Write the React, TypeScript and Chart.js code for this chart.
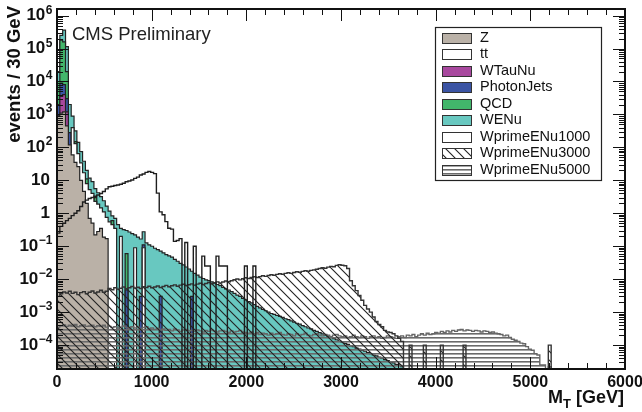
import React, { useEffect, useRef } from "react";
import { Chart, registerables } from "chart.js";

Chart.register(...registerables);

// ---- binning / axis ranges -------------------------------------------------
const BIN_WIDTH = 30; // GeV per histogram bin
const X_MIN = 0;
const X_MAX = 6000;
const Y_MIN = 1.88e-5;
const Y_MAX = 1.585e6;

const xMajorTicks = [0, 1000, 2000, 3000, 4000, 5000, 6000];
const yDecadeExponents = [-4, -3, -2, -1, 0, 1, 2, 3, 4, 5, 6];

// ---- background samples, events / 30 GeV (bin i = [30 i, 30 i + 30) GeV) ----
const zEvents = [
  900, 1100, 1200, 450, 120, 59, 35, 26, 10, 4.6, 2.0, 0.7, 0.5, 0.22, 0.28, 0.35, 0.19, 0.17,
];

const ttEvents = [
  5, 20, 30, 40, 70, 400, 130, 65, 34, 17, 8, 5.2, 4.0, 2.3, 1.9, 1.45, 1.1, 0.75, 0.55, 0.45,
  0.35, 0, 0.2, 0, 0, 0, 0, 0.09, 0, 0, 0.09,
];

const wTauNuEvents = [600, 3500, 4000, 1200, 20];

const photonJetsEvents = [
  2000, 9000, 8000, 3000, 280, 0, 0, 0, 0, 0, 0, 0, 0, 0, 0, 0, 0, 0, 0, 0,
  0, 0, 0, 0, 0.0047, 0, 0, 0, 0, 0.003, 0.11, 0, 0, 0, 0, 0, 0.003, 0, 0, 0,
  0, 0, 0, 0, 0, 0, 0, 0.003,
];

const qcdEvents = [
  1.0e4, 1.8e5, 1.6e5, 2.0e4, 0, 0, 150, 0, 0, 0, 11, 0, 0, 3.0, 0, 0, 0, 0, 0, 0.6,
  0, 0, 0, 0, 0.06,
];

const wENuEvents = [
  2.0e4, 2.5e5, 3.6e5, 1.15e5, 2.0e3, 890, 316, 141, 74, 38,
  20, 11.7, 9.1, 5.6, 4.2, 3.2, 2.4, 1.66, 1.17, 0.83,
  0.7, 0.45, 0.35, 0.32, 0.3, 0.27, 0.24, 0.22, 0.19, 0.166,
  0.275, 0.126, 0.11, 0.1, 0.087, 0.079, 0.071, 0.063, 0.056, 0.051,
  0.047, 0.04, 0.035, 0.03, 0.027, 0.0234, 0.0204, 0.0174, 0.0151, 0.0132,
  0.0115, 0.0105, 0.0095, 0.0091, 0.0083, 0.0076, 0.0069, 0.0064, 0.0056, 0.0051,
  0.0047, 0.0042, 0.0037, 0.0033, 0.003, 0.0026, 0.00235, 0.0021, 0.0019, 0.0017,
  0.0015, 0.00135, 0.00122, 0.0011, 0.001, 9.1e-4, 8.5e-4, 7.9e-4, 7.4e-4, 6.9e-4,
  6.3e-4, 5.9e-4, 5.4e-4, 5.0e-4, 4.6e-4, 4.3e-4, 3.9e-4, 3.6e-4, 3.3e-4, 3.1e-4,
  2.8e-4, 2.6e-4, 2.4e-4, 2.2e-4, 2.0e-4, 1.86e-4, 1.7e-4, 1.58e-4, 1.45e-4, 1.32e-4,
  1.23e-4, 1.12e-4, 1.05e-4, 9.5e-5, 8.9e-5, 8.1e-5, 7.6e-5, 6.9e-5, 6.5e-5, 5.9e-5,
  5.5e-5, 5.0e-5, 4.7e-5, 4.3e-5, 4.0e-5, 3.6e-5, 3.4e-5, 3.1e-5, 2.9e-5, 2.6e-5,
  2.5e-5, 2.2e-5,
];

// ---- W' signal samples --------------------------------------------------------
const wprime1000Events = [
  0.25, 0.4, 0.5, 0.6, 0.7, 0.85, 1.0, 1.2, 1.6, 2.2,
  2.5, 2.8, 3.0, 3.3, 3.6, 4.0, 4.6, 5.5, 6.4, 6.6,
  7.0, 7.2, 7.6, 8.2, 9.1, 9.5, 10.2, 11.5, 12.5, 14.5,
  15.5, 17.5, 18.5, 17.5, 16, 4.1, 1.1, 0.9, 0.56, 0.35,
  0.33, 0.14, 0.15, 0.17, 0, 0.13, 0, 0, 0.1, 0,
  0, 0.05, 0.025, 0.025, 0, 0, 0.05, 0.025, 0.025, 0.025,
  0, 0, 0, 0, 0, 0, 0.025, 0, 0, 0.025,
];

const wprime3000Events = [
  0.0030, 0.0036, 0.0041, 0.0038, 0.0043, 0.0037, 0.0040, 0.0034, 0.0039, 0.0042,
  0.0036, 0.0040, 0.0044, 0.0038, 0.0041, 0.0046, 0.0040, 0.0043, 0.0052, 0.0048,
  0.0055, 0.0050, 0.0053, 0.0058, 0.0051, 0.0055, 0.0060, 0.0054, 0.0057, 0.0052,
  0.0059, 0.0056, 0.0061, 0.0055, 0.0058, 0.0062, 0.0056, 0.0060, 0.0065, 0.0059,
  0.0063, 0.0067, 0.0061, 0.0066, 0.0070, 0.0064, 0.0068, 0.0072, 0.0066, 0.0071,
  0.0075, 0.0069, 0.0074, 0.0079, 0.0073, 0.0078, 0.0083, 0.0077, 0.0082, 0.0088,
  0.0084, 0.0090, 0.0096, 0.0101, 0.0095, 0.0104, 0.0110, 0.0105, 0.0112, 0.0118,
  0.0113, 0.0120, 0.0127, 0.0122, 0.0130, 0.0137, 0.0131, 0.0140, 0.0146, 0.0141,
  0.0150, 0.0156, 0.0150, 0.0160, 0.0168, 0.0162, 0.0172, 0.0180, 0.0175, 0.0185,
  0.0192, 0.0200, 0.0210, 0.0222, 0.0215, 0.0232, 0.0245, 0.0238, 0.0262, 0.0275,
  0.0265, 0.0255, 0.0210, 0.0090, 0.0063, 0.0045, 0.0032, 0.0023, 0.0016, 0.00125,
  0.0010, 0.00071, 0.00052, 0.00042, 0.00036, 0.00028, 0.00025, 0.00024, 0.00022, 0.00019,
  0.00016, 0.00013, 0, 0, 1.0e-4, 0, 0, 0, 0, 1.0e-4,
  0, 0, 0, 0, 0, 1.0e-4, 0, 0, 0, 0,
  0, 0, 0, 1.0e-4, 0, 0, 0, 0, 0, 0,
  0, 0, 0, 0, 0, 0, 0, 0, 0, 0,
  0, 0, 0, 0, 0, 0, 0, 0, 0, 0,
  0, 0, 0, 1.0e-4,
];

const wprime5000Events = [
  3.5e-4, 3.9e-4, 4.1e-4, 3.7e-4, 4.0e-4, 3.8e-4, 4.2e-4, 3.6e-4, 3.9e-4, 4.1e-4,
  3.7e-4, 3.8e-4, 4.0e-4, 3.6e-4, 3.9e-4, 3.7e-4, 4.0e-4, 3.5e-4, 3.7e-4, 3.4e-4,
  3.6e-4, 3.3e-4, 3.5e-4, 3.8e-4, 3.4e-4, 3.2e-4, 3.6e-4, 3.3e-4, 3.5e-4, 3.1e-4,
  3.4e-4, 3.6e-4, 3.2e-4, 3.3e-4, 3.0e-4, 3.2e-4, 2.9e-4, 3.1e-4, 2.8e-4, 3.0e-4,
  2.7e-4, 3.1e-4, 2.9e-4, 2.6e-4, 2.9e-4, 3.0e-4, 2.7e-4, 2.8e-4, 2.6e-4, 2.9e-4,
  2.7e-4, 2.5e-4, 2.8e-4, 2.6e-4, 2.9e-4, 2.7e-4, 2.5e-4, 2.7e-4, 2.8e-4, 2.6e-4,
  2.4e-4, 2.7e-4, 2.5e-4, 2.6e-4, 2.8e-4, 2.5e-4, 2.4e-4, 2.3e-4, 2.5e-4, 2.2e-4,
  2.4e-4, 2.1e-4, 2.3e-4, 2.2e-4, 2.0e-4, 2.3e-4, 2.1e-4, 2.2e-4, 2.4e-4, 2.1e-4,
  2.0e-4, 2.2e-4, 2.1e-4, 1.9e-4, 2.2e-4, 2.0e-4, 2.1e-4, 2.3e-4, 2.0e-4, 1.9e-4,
  2.1e-4, 2.2e-4, 2.0e-4, 1.9e-4, 2.1e-4, 2.0e-4, 1.8e-4, 2.0e-4, 2.1e-4, 1.9e-4,
  1.8e-4, 1.9e-4, 1.7e-4, 1.8e-4, 2.0e-4, 1.8e-4, 1.7e-4, 1.9e-4, 1.8e-4, 1.6e-4,
  1.8e-4, 1.9e-4, 1.7e-4, 1.8e-4, 1.6e-4, 1.7e-4, 1.9e-4, 1.8e-4, 1.7e-4, 1.6e-4,
  1.8e-4, 1.9e-4, 1.7e-4, 2.0e-4, 1.9e-4, 2.1e-4, 1.8e-4, 2.0e-4, 2.2e-4, 2.0e-4,
  2.3e-4, 2.1e-4, 2.2e-4, 2.4e-4, 2.3e-4, 2.6e-4, 2.4e-4, 2.7e-4, 2.5e-4, 2.8e-4,
  2.6e-4, 2.9e-4, 3.0e-4, 2.7e-4, 2.9e-4, 2.8e-4, 2.6e-4, 2.8e-4, 2.7e-4, 2.5e-4,
  2.7e-4, 2.6e-4, 2.4e-4, 2.5e-4, 2.3e-4, 2.2e-4, 2.1e-4, 1.9e-4, 2.0e-4, 1.7e-4,
  1.5e-4, 1.4e-4, 1.3e-4, 1.15e-4, 1.1e-4, 9.0e-5, 7.5e-5, 7.0e-5, 5.5e-5, 5.0e-5,
  2.5e-5, 2.5e-5, 0, 2.2e-5, 0,
];

// ---- styling ------------------------------------------------------------------
const FONT = "'Liberation Sans', Arial, Helvetica, sans-serif";
const OUTLINE = "#222222";
const COLORS = {
  z: "#bab1a7",
  tt: "#ffffff",
  wTauNu: "#a8489e",
  photonJets: "#3b54a4",
  qcd: "#42b66b",
  wENu: "#68c8c0",
};

const FLOOR = 1e-9; // empty bins fall below the log axis

function histogramPoints(values: number[]) {
  const pts = values.map((v, i) => ({ x: i * BIN_WIDTH, y: v > 0 ? v : FLOOR }));
  pts.push({ x: values.length * BIN_WIDTH, y: FLOOR });
  return pts;
}

function makeDiagonalHatch(): CanvasPattern {
  const s = 9;
  const c = document.createElement("canvas");
  c.width = s;
  c.height = s;
  const g = c.getContext("2d")!;
  g.strokeStyle = "#222";
  g.lineWidth = 1.1;
  g.beginPath();
  g.moveTo(-1, -1);
  g.lineTo(s + 1, s + 1);
  g.moveTo(-1, s - 1);
  g.lineTo(1, s + 1);
  g.moveTo(s - 1, -1);
  g.lineTo(s + 1, 1);
  g.stroke();
  return g.createPattern(c, "repeat")!;
}

function makeHorizontalHatch(): CanvasPattern {
  const c = document.createElement("canvas");
  c.width = 4;
  c.height = 4;
  const g = c.getContext("2d")!;
  g.fillStyle = "#6a6a6a";
  g.fillRect(0, 1, 4, 1);
  g.fillStyle = "rgba(106,106,106,0.6)";
  g.fillRect(0, 2, 4, 1);
  return g.createPattern(c, "repeat")!;
}

function filledHist(label: string, values: number[], color: string | CanvasPattern, order: number) {
  return {
    label,
    data: histogramPoints(values),
    stepped: "before" as const,
    fill: "start" as const,
    backgroundColor: color,
    borderColor: OUTLINE,
    borderWidth: 1.2,
    pointRadius: 0,
    order,
  };
}

const rootStylePlugin = {
  id: "rootStyle",
  afterDraw(chart: any) {
    const { ctx, chartArea: a, scales } = chart;
    const xs = scales.x;
    const ys = scales.y;
    ctx.save();

    // inward ticks on all four sides
    ctx.strokeStyle = "#111";
    ctx.lineWidth = 1;
    ctx.beginPath();
    for (let v = X_MIN; v <= X_MAX; v += 200) {
      const px = Math.round(xs.getPixelForValue(v)) + 0.5;
      const len = v % 1000 === 0 ? 12 : 6;
      ctx.moveTo(px, a.bottom);
      ctx.lineTo(px, a.bottom - len);
      ctx.moveTo(px, a.top);
      ctx.lineTo(px, a.top + len);
    }
    for (let e = -5; e <= 6; e++) {
      for (let m = 1; m <= 9; m++) {
        const v = m * Math.pow(10, e);
        if (v < ys.min || v > ys.max) continue;
        const py = Math.round(ys.getPixelForValue(v)) + 0.5;
        const len = m === 1 ? 12 : 6;
        ctx.moveTo(a.left, py);
        ctx.lineTo(a.left + len, py);
        ctx.moveTo(a.right, py);
        ctx.lineTo(a.right - len, py);
      }
    }
    ctx.stroke();

    // frame
    ctx.lineWidth = 2;
    ctx.strokeStyle = "#111";
    ctx.strokeRect(a.left, a.top, a.right - a.left, a.bottom - a.top);

    // x tick labels
    ctx.fillStyle = "#111";
    ctx.font = `bold 16px ${FONT}`;
    ctx.textAlign = "center";
    ctx.textBaseline = "middle";
    for (const v of xMajorTicks) {
      ctx.fillText(String(v), xs.getPixelForValue(v), 383);
    }

    // y tick labels with superscript exponents
    for (const e of yDecadeExponents) {
      const py = ys.getPixelForValue(Math.pow(10, e));
      const right = 52;
      ctx.textBaseline = "middle";
      ctx.textAlign = "left";
      if (e === 0 || e === 1) {
        ctx.font = `bold 17px ${FONT}`;
        const t = e === 0 ? "1" : "10";
        const w = ctx.measureText(t).width;
        ctx.fillText(t, right - 2 - w, py);
        continue;
      }
      const expText = e < 0 ? "\u2212" + Math.abs(e) : String(e);
      ctx.font = `bold 12px ${FONT}`;
      const we = ctx.measureText(expText).width;
      ctx.font = `bold 17px ${FONT}`;
      const wb = ctx.measureText("10").width;
      const x0 = right - we - wb;
      ctx.fillText("10", x0, py);
      ctx.font = `bold 12px ${FONT}`;
      ctx.textBaseline = "alphabetic";
      ctx.fillText(expText, x0 + wb + 0.5, py - 2);
    }

    // axis titles
    ctx.font = `bold 18px ${FONT}`;
    ctx.textBaseline = "alphabetic";
    ctx.textAlign = "left";
    const mW = ctx.measureText("M").width;
    const restW = ctx.measureText(" [GeV]").width;
    ctx.font = `bold 13px ${FONT}`;
    const tW = ctx.measureText("T").width;
    const xEnd = a.right - 1;
    const xStart = xEnd - (mW + tW + restW);
    ctx.font = `bold 18px ${FONT}`;
    ctx.fillText("M", xStart, 403);
    ctx.font = `bold 13px ${FONT}`;
    ctx.fillText("T", xStart + mW, 408);
    ctx.font = `bold 18px ${FONT}`;
    ctx.fillText(" [GeV]", xStart + mW + tW, 403);

    ctx.save();
    ctx.translate(15, 6);
    ctx.rotate(-Math.PI / 2);
    ctx.textAlign = "right";
    ctx.textBaseline = "middle";
    ctx.font = `bold 18.5px ${FONT}`;
    ctx.fillText("events / 30 GeV", 0, 0);
    ctx.restore();

    // experiment label
    ctx.font = `18.5px ${FONT}`;
    ctx.textAlign = "left";
    ctx.textBaseline = "alphabetic";
    ctx.fillStyle = "#222";
    ctx.fillText("CMS Preliminary", 72, 40);

    // legend
    const box = { left: 435.5, top: 27.5, right: 601.5, bottom: 180.5 };
    ctx.fillStyle = "#fff";
    ctx.fillRect(box.left, box.top, box.right - box.left, box.bottom - box.top);
    ctx.lineWidth = 1.2;
    ctx.strokeStyle = "#222";
    ctx.strokeRect(box.left, box.top, box.right - box.left, box.bottom - box.top);
    const datasets = chart.data.datasets;
    ctx.font = `14.5px ${FONT}`;
    ctx.textBaseline = "middle";
    datasets.forEach((ds: any, i: number) => {
      const cy = 37.7 + i * 16.5;
      const sx = 442;
      const sy = Math.round(cy - 5) + 0.5;
      ctx.fillStyle = ds.fill === false ? "#fff" : ds.backgroundColor;
      ctx.fillRect(sx, sy, 29, 10);
      ctx.lineWidth = 1;
      ctx.strokeStyle = "#333";
      ctx.strokeRect(sx + 0.5, sy, 29, 10);
      ctx.fillStyle = "#111";
      ctx.fillText(ds.label, 480, cy);
    });

    ctx.restore();
  },
};

export default function App() {
  const canvasRef = useRef<HTMLCanvasElement>(null);

  useEffect(() => {
    const canvas = canvasRef.current;
    if (!canvas) return;
    const diagonal = makeDiagonalHatch();
    const horizontal = makeHorizontalHatch();

    const datasets: any[] = [
      filledHist("Z", zEvents, COLORS.z, 3),
      filledHist("tt", ttEvents, COLORS.tt, 4),
      filledHist("WTauNu", wTauNuEvents, COLORS.wTauNu, 5),
      filledHist("PhotonJets", photonJetsEvents, COLORS.photonJets, 6),
      filledHist("QCD", qcdEvents, COLORS.qcd, 7),
      filledHist("WENu", wENuEvents, COLORS.wENu, 8),
      {
        label: "WprimeENu1000",
        data: histogramPoints(wprime1000Events),
        stepped: "before",
        fill: false,
        borderColor: "#1e1e1e",
        borderWidth: 1.4,
        pointRadius: 0,
        order: 0,
      },
      {
        label: "WprimeENu3000",
        data: histogramPoints(wprime3000Events),
        stepped: "before",
        fill: "start",
        backgroundColor: diagonal,
        borderColor: "#333",
        borderWidth: 1.4,
        pointRadius: 0,
        order: 1,
      },
      {
        label: "WprimeENu5000",
        data: histogramPoints(wprime5000Events),
        stepped: "before",
        fill: "start",
        backgroundColor: horizontal,
        borderColor: "#666",
        borderWidth: 1.4,
        pointRadius: 0,
        order: 2,
      },
    ];

    const chart = new Chart(canvas, {
      type: "line",
      data: { datasets },
      options: {
        animation: false,
        responsive: false,
        devicePixelRatio: 1,
        parsing: false,
        events: [],
        layout: { padding: { left: 57, right: 17, top: 9, bottom: 43 } },
        scales: {
          x: { type: "linear", min: X_MIN, max: X_MAX, display: false },
          y: { type: "logarithmic", min: Y_MIN, max: Y_MAX, display: false },
        },
        plugins: {
          legend: { display: false },
          tooltip: { enabled: false },
        },
      },
      plugins: [rootStylePlugin],
    } as any);

    return () => chart.destroy();
  }, []);

  return (
    <div style={{ position: "absolute", left: 0, top: 0, width: 642, height: 412, background: "#fff" }}>
      <canvas ref={canvasRef} width={642} height={412} style={{ display: "block", width: 642, height: 412 }} />
    </div>
  );
}
